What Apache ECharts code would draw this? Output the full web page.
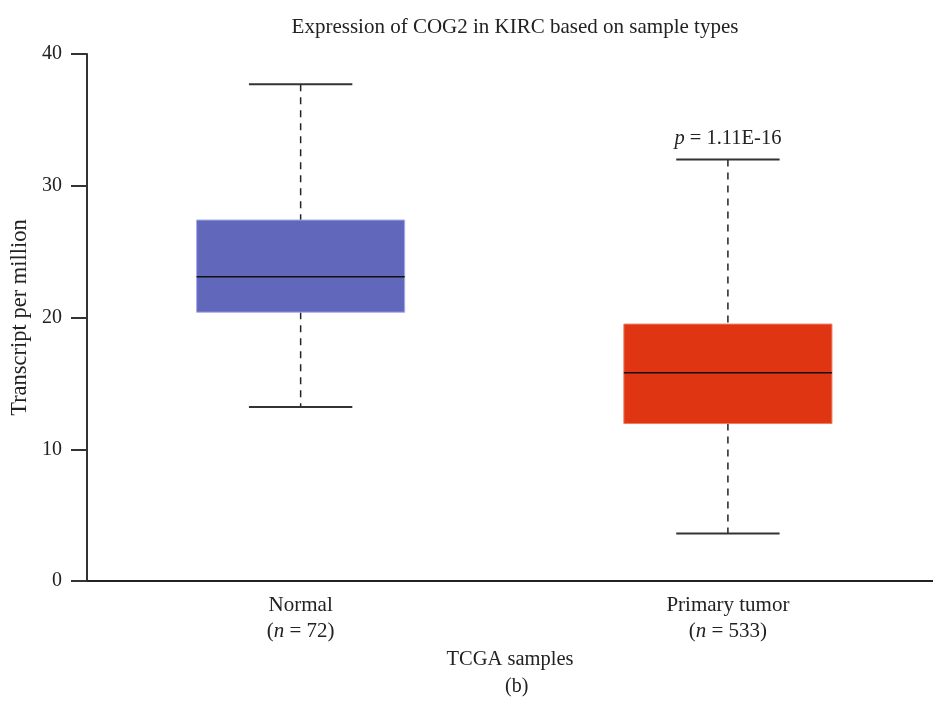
<!DOCTYPE html>
<html>
<head>
<meta charset="utf-8">
<script src="https://cdn.jsdelivr.net/npm/echarts@6/dist/echarts.min.js"></script>
<style>
    html, body { margin: 0; padding: 0; background: #fff; }
    #chart { width: 933px; height: 706px; }
</style>
</head>
<body>
<div id="chart"></div>
<script>
    // data (TPM)
    var categories = ['Normal', 'Primary tumor'];
    var sampleSizes = [72, 533];
    var whiskerLow = [13.2, 3.6];
    var q1 = [20.4, 11.95];
    var median = [23.1, 15.8];
    var q3 = [27.4, 19.5];
    var whiskerHigh = [37.7, 32.0];
    var pValueText = '1.11E-16';
    var yTicks = [0, 10, 20, 30, 40];

    var boxFill = ['#6167bb', '#e03512'];
    var boxEdge = ['#a9acec', '#f07a5e'];
    var serif = '"Liberation Serif", "DejaVu Serif", serif';

    var boxData = categories.map(function (c, i) {
        return [i, whiskerLow[i], q1[i], median[i], q3[i], whiskerHigh[i]];
    });

    function renderBox(params, api) {
        var idx = api.value(0);
        var band = api.size([1, 0])[0];
        var boxHalf = band * 0.2435;
        var capHalf = band * 0.121;
        var lo = api.coord([idx, api.value(1)]);
        var b1 = api.coord([idx, api.value(2)]);
        var md = api.coord([idx, api.value(3)]);
        var b3 = api.coord([idx, api.value(4)]);
        var hi = api.coord([idx, api.value(5)]);
        var x = lo[0];
        var dash = { stroke: '#222', lineWidth: 1.5, lineDash: [7, 6] };
        var cap = { stroke: '#333', lineWidth: 2 };
        var children = [
            { type: 'line', shape: { x1: x, y1: hi[1], x2: x, y2: b3[1] }, style: dash },
            { type: 'line', shape: { x1: x, y1: b1[1], x2: x, y2: lo[1] }, style: dash },
            { type: 'line', shape: { x1: x - capHalf, y1: hi[1], x2: x + capHalf, y2: hi[1] }, style: cap },
            { type: 'line', shape: { x1: x - capHalf, y1: lo[1], x2: x + capHalf, y2: lo[1] }, style: cap },
            {
                type: 'rect',
                shape: { x: x - boxHalf, y: b3[1], width: boxHalf * 2, height: b1[1] - b3[1] },
                style: { fill: boxFill[idx], stroke: boxEdge[idx], lineWidth: 1 }
            },
            { type: 'line', shape: { x1: x - boxHalf, y1: md[1], x2: x + boxHalf, y2: md[1] }, style: { stroke: '#111', lineWidth: 1.5 } }
        ];
        if (idx === 1) {
            children.push({
                type: 'text',
                x: x,
                y: hi[1] - 10,
                style: {
                    text: '{it|p} = ' + pValueText,
                    align: 'center',
                    verticalAlign: 'bottom',
                    font: '20.5px ' + serif,
                    fill: '#222',
                    rich: { it: { fontStyle: 'italic', fontSize: 20.5, fontFamily: serif, fill: '#222' } }
                }
            });
        }
        return { type: 'group', children: children };
    }

    var chart = echarts.init(document.getElementById('chart'));
    chart.setOption({
        animation: false,
        title: {
            text: 'Expression of COG2 in KIRC based on sample types',
            left: 510,
            textAlign: 'center',
            top: 12,
            textStyle: { fontFamily: serif, fontSize: 21, fontWeight: 'normal', color: '#222' }
        },
        grid: { left: 87, top: 54, right: 0, bottom: 125, containLabel: false },
        xAxis: {
            // value axis so the two groups sit where they do in the figure
            type: 'value',
            min: -0.5,
            max: 1.48,
            name: 'TCGA samples',
            nameLocation: 'middle',
            nameGap: 63,
            nameTextStyle: { fontFamily: serif, fontSize: 20.5, color: '#222' },
            axisLine: { onZero: false, lineStyle: { color: '#222', width: 2 } },
            axisTick: { show: false },
            splitLine: { show: false },
            axisLabel: {
                customValues: [0, 1],
                margin: 11,
                lineHeight: 26,
                fontFamily: serif,
                fontSize: 21,
                color: '#222',
                formatter: function (v) {
                    var i = Math.round(v);
                    return categories[i] + '\n({it|n} = ' + sampleSizes[i] + ')';
                },
                rich: { it: { fontStyle: 'italic', fontFamily: serif, fontSize: 21, color: '#222', lineHeight: 26 } }
            }
        },
        yAxis: {
            type: 'value',
            min: yTicks[0],
            max: yTicks[yTicks.length - 1],
            interval: 10,
            name: 'Transcript per million',
            nameLocation: 'middle',
            nameGap: 54,
            nameTextStyle: { fontFamily: serif, fontSize: 22.5, color: '#222' },
            axisLine: { show: true, onZero: false, lineStyle: { color: '#333', width: 2 } },
            axisTick: { show: true, length: 16, lineStyle: { color: '#333', width: 2 } },
            axisLabel: { margin: 25, fontFamily: serif, fontSize: 20, color: '#222' },
            splitLine: { show: false }
        },
        graphic: [{
            type: 'text',
            left: 505,
            top: 677,
            style: { text: '(b)', font: '20px ' + serif, fill: '#222' }
        }],
        series: [{
            type: 'custom',
            renderItem: renderBox,
            encode: { x: 0, y: [1, 2, 3, 4, 5] },
            data: boxData,
            clip: false
        }]
    });
</script>
</body>
</html>
